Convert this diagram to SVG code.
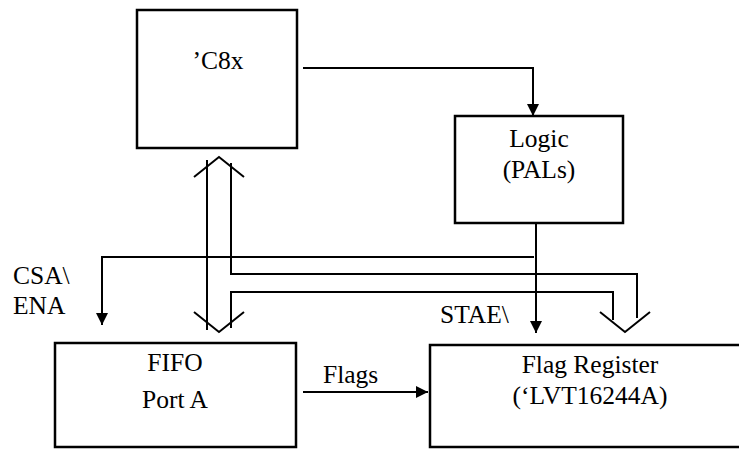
<svg xmlns="http://www.w3.org/2000/svg" width="739" height="449" viewBox="0 0 739 449">
<defs>
<style>
.box{fill:#fff;stroke:#000;stroke-width:2.5}
.ln{fill:none;stroke:#000;stroke-width:2}
.c{text-anchor:middle}
</style>
<marker id="ah" viewBox="0 0 12 12" refX="12" refY="6" markerWidth="12" markerHeight="12" markerUnits="userSpaceOnUse" orient="auto">
<path d="M0,0 L12,6 L0,12 Z" fill="#000"/>
</marker>
</defs>
<rect width="739" height="449" fill="#fff"/>
<g font-family="'Liberation Serif', 'Times New Roman', serif" font-size="25.5" fill="#000">
<g id="c8x">
<rect class="box" x="137" y="10" width="160" height="138"/>
<text class="c" x="218" y="69">’C8x</text>
</g>
<g id="logic">
<rect class="box" x="455" y="116" width="168" height="107"/>
<text class="c" x="539" y="147">Logic</text>
<text class="c" x="539" y="178">(PALs)</text>
</g>
<g id="fifo">
<rect class="box" x="55" y="343" width="241" height="104"/>
<text class="c" x="175" y="371">FIFO</text>
<text class="c" x="175" y="408">Port A</text>
</g>
<g id="flagreg">
<rect class="box" x="430" y="345" width="320" height="102"/>
<text class="c" x="590" y="373">Flag Register</text>
<text class="c" x="590" y="404">(‘LVT16244A)</text>
</g>
<g id="connectors">
<path class="ln" d="M303,68 H533 V116" marker-end="url(#ah)"/>
<path class="ln" d="M536,223 V333" marker-end="url(#ah)"/>
<path class="ln" d="M534,257 H102 V325" marker-end="url(#ah)"/>
<path class="ln" d="M303,392 H428" marker-end="url(#ah)"/>
<path class="ln" d="M207,160 V330"/>
<path class="ln" d="M231,163 V274 H637 V318"/>
<path class="ln" d="M231,328 V292 H613 V320"/>
<path class="ln" d="M194,177 L219,157 L244,177"/>
<path class="ln" d="M194,312 L219,332 L244,312"/>
<path class="ln" d="M600,312 L625,332 L650,312"/>
</g>
<g id="labels">
<text x="13" y="284">CSA\</text>
<text x="13" y="314">ENA</text>
<text x="440" y="323">STAE\</text>
<text x="323" y="383">Flags</text>
</g>
</g>
</svg>
